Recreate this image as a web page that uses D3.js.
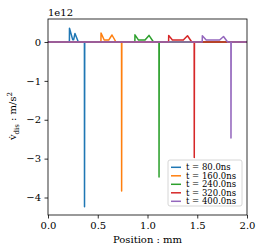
<!DOCTYPE html>
<html>
<head>
<meta charset="utf-8">
<script src="https://cdn.jsdelivr.net/npm/d3@7"></script>
<style>
  body { margin: 0; background: #ffffff; }
  text { font-family: 'DejaVu Serif', serif; fill: #000; }
</style>
</head>
<body>
<svg></svg>
<script>
// Data Variables (position in mm, acceleration in units of 1e12 m/s^2)
let labels = ['t = 80.0ns', 't = 160.0ns', 't = 240.0ns', 't = 320.0ns', 't = 400.0ns'];
let colors = ['#1f77b4', '#ff7f0e', '#2ca02c', '#d62728', '#9467bd'];

let pos80  = [0, 0.215, 0.216, 0.248, 0.258, 0.271, 0.305, 0.366, 0.367, 0.369, 2.0];
let val80  = [0, 0, 0.354, 0.06, 0.06, 0.22, 0, 0, -4.24, 0, 0];
let pos160 = [0, 0.532, 0.533, 0.565, 0.61, 0.643, 0.683, 0.739, 0.740, 0.742, 2.0];
let val160 = [0, 0, 0.23, 0.05, 0.05, 0.18, 0, 0, -3.83, 0, 0];
let pos240 = [0, 0.873, 0.874, 0.91, 0.975, 1.015, 1.06, 1.115, 1.116, 1.118, 2.0];
let val240 = [0, 0, 0.185, 0.05, 0.05, 0.17, 0, 0, -3.47, 0, 0];
let pos320 = [0, 1.212, 1.213, 1.25, 1.36, 1.402, 1.445, 1.469, 1.470, 1.472, 2.0];
let val320 = [0, 0, 0.17, 0.05, 0.05, 0.16, 0, 0, -2.97, 0, 0];
let pos400 = [0, 1.550, 1.551, 1.59, 1.725, 1.764, 1.805, 1.838, 1.839, 1.841, 2.0];
let val400 = [0, 0, 0.16, 0.05, 0.05, 0.14, 0, 0, -2.47, 0, 0];

let positions = [pos80, pos160, pos240, pos320, pos400];
let values = [val80, val160, val240, val320, val400];

let xTicks = [0, 0.5, 1.0, 1.5, 2.0];
let yTicks = [-4, -3, -2, -1, 0];

// SVG Dimensions Variables
let width = 264, height = 251;
let padLeft = 48, padRight = 247, padTop = 19, padBottom = 215;

let svg = d3.select('svg').attr('width', width).attr('height', height);

// Scales
let xScale = d3.scaleLinear().domain([0, 2]).range([padLeft, padRight]);
let yScale = d3.scaleLinear().domain([-4.45, 0.5916]).range([padBottom, padTop]);

// Lines, one per time step
let line = d3.line()
    .x((d) => xScale(d[0]))
    .y((d) => yScale(d[1]));

svg.append('defs').append('clipPath').attr('id', 'clip')
    .append('rect')
    .attr('x', padLeft).attr('y', padTop)
    .attr('width', padRight - padLeft).attr('height', padBottom - padTop);

let lines = svg.append('g').attr('clip-path', 'url(#clip)');
positions.forEach((p, i) => {
    let pts = p.map((x, j) => [x, values[i][j]]);
    lines.append('path')
        .datum(pts)
        .attr('d', line)
        .attr('fill', 'none')
        .attr('stroke', colors[i])
        .attr('stroke-width', 1.5)
        .attr('stroke-linejoin', 'round');
});

// Axes
let xAxis = d3.axisBottom(xScale).tickValues(xTicks).tickFormat(d3.format('.1f'))
    .tickSize(3.5).tickPadding(3.5);
let gx = svg.append('g')
    .attr('transform', `translate(0, ${padBottom})`)
    .call(xAxis);

let yAxis = d3.axisLeft(yScale).tickValues(yTicks).tickFormat(d3.format('d'))
    .tickSize(3.5).tickPadding(3.5);
let gy = svg.append('g')
    .attr('transform', `translate(${padLeft}, 0)`)
    .call(yAxis);

[gx, gy].forEach((g) => {
    g.select('.domain').remove();
    g.selectAll('.tick line').attr('stroke', '#000').attr('stroke-width', 0.8);
    g.selectAll('.tick text').style('font-size', '10px').style('font-family', 'DejaVu Serif');
});

// Frame
svg.append('rect')
    .attr('x', padLeft).attr('y', padTop)
    .attr('width', padRight - padLeft).attr('height', padBottom - padTop)
    .attr('fill', 'none')
    .attr('stroke', '#000')
    .attr('stroke-width', 0.8);

// Offset text
svg.append('text')
    .attr('x', padLeft).attr('y', 15.5)
    .style('font-size', '10px')
    .text('1e12');

// Axis labels
svg.append('text')
    .attr('x', (padLeft + padRight) / 2).attr('y', 243)
    .attr('text-anchor', 'middle')
    .style('font-size', '10px')
    .text('Position : mm');

let ylab = svg.append('text')
    .attr('transform', 'translate(16, 116) rotate(-90)')
    .attr('text-anchor', 'middle')
    .style('font-size', '10px');
ylab.append('tspan').text('v\u0307');
ylab.append('tspan').attr('dy', 2.5).style('font-size', '7px').text('dis');
ylab.append('tspan').attr('dy', -2.5).text(' : m/s');
ylab.append('tspan').attr('dy', -4).style('font-size', '7px').text('2');

// Legend
let legend = svg.append('g').attr('transform', 'translate(168, 160)');
legend.append('rect')
    .attr('width', 74).attr('height', 46)
    .attr('rx', 2)
    .attr('fill', '#ffffff')
    .attr('fill-opacity', 0.8)
    .attr('stroke', '#cccccc')
    .attr('stroke-width', 0.8);

labels.forEach((lab, i) => {
    let yy = 7.3 + i * 8.5;
    legend.append('line')
        .attr('x1', 3).attr('x2', 13)
        .attr('y1', yy).attr('y2', yy)
        .attr('stroke', colors[i])
        .attr('stroke-width', 1.5);
    legend.append('text')
        .attr('x', 18).attr('y', yy + 3)
        .style('font-size', '8.5px')
        .text(lab);
});
</script>
</body>
</html>
